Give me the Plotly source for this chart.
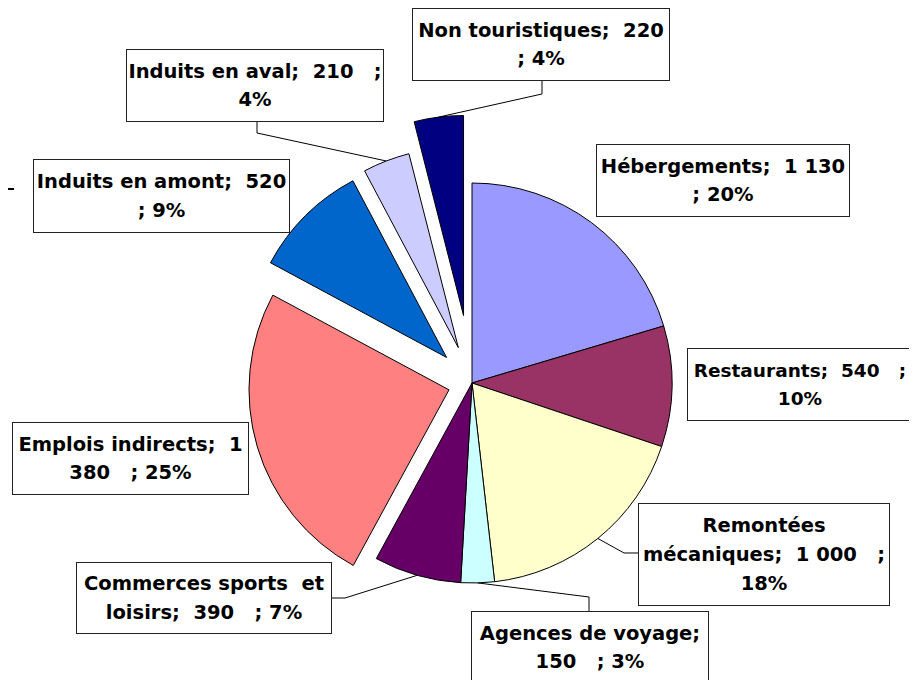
import math
import plotly.graph_objects as go

W, H = 917, 680
OFF = 8  # the page body margin that sits around the plot div

labels = ["Hébergements", "Restaurants", "Remontées mécaniques", "Agences de voyage",
          "Commerces sports et loisirs", "Emplois indirects", "Induits en amont",
          "Induits en aval", "Non touristiques"]
values = [1130, 540, 1000, 150, 390, 1380, 520, 210, 220]
colors = ["#9999FF", "#993366", "#FFFFCC", "#CCFFFF", "#660066",
          "#FF8080", "#0066CC", "#CCCCFF", "#000080"]
pulls = [0, 0, 0, 0, 0, 0.12, 0.18, 0.19, 0.34]

# how each data label is broken over lines (n = name, w = words, v = value, p = percent)
templates = [
    "{n};  {v}|; {p}",
    "{n};  {v}   ;|{p}",
    "{w[0]}|{w[1]};  {v}   ;|{p}",
    "{n};|{v}   ; {p}",
    "{w[0]} {w[1]}  {w[2]}|{w[3]};  {v}   ; {p}",
    "{n};  {vw[0]}|{vw[1]}   ; {p}",
    "{n};  {v}|; {p}",
    "{n};  {v}   ;|{p}",
    "{n};  {v}|; {p}",
]

# label boxes in screen pixels: left, top, width, height
boxes = [(596, 144, 254, 73), (687, 348, 226, 73), (638, 503, 252, 103),
         (471, 611, 238, 73), (76, 562, 256, 72), (12, 422, 237, 73),
         (33, 159, 257, 74), (126, 49, 258, 73), (412, 8, 258, 73)]
label_font = {1: 18.5}  # the restaurants box runs off the right edge

# leader lines: slice index -> points from the box to the elbow
leaders = {8: [(542, 81), (542, 94)], 7: [(257, 122), (257, 133)],
           2: [(638, 553), (624, 553)], 3: [(589, 611), (589, 597)],
           4: [(332, 598), (345, 598)]}

# pie geometry (screen pixels)
cx, cy, r = 472, 383, 200


def px(x):
    return (x - OFF) / W


def py(y):
    return 1 - (y - OFF) / H


half = r * (1 + max(pulls))
dom_x = [px(cx - half), px(cx + half)]
dom_y = [py(cy + half), py(cy - half)]

total = sum(values)

fig = go.Figure(go.Pie(
    labels=labels, values=values, sort=False, direction="clockwise", rotation=0,
    pull=pulls, marker=dict(colors=colors, line=dict(color="black", width=1)),
    textinfo="none", hoverinfo="label+value+percent", showlegend=False,
    domain=dict(x=dom_x, y=dom_y),
))

NB = "\u00a0"
annotations = []
for i, name in enumerate(labels):
    vstr = f"{values[i]:,}".replace(",", " ")
    pct = f"{round(100 * values[i] / total)}%"
    txt = templates[i].format(n=name, w=name.split(), v=vstr, vw=vstr.split(), p=pct)
    fs = label_font.get(i, 19.5)
    lines = [f'<span style="font-size:{fs}px">' + ln.replace(" ", NB) + "</span>"
             for ln in txt.split("|")]
    left, top, bw, bh = boxes[i]
    annotations.append(dict(
        x=px(left + bw / 2), y=py(top + bh / 2), xref="paper", yref="paper",
        xanchor="center", yanchor="middle", showarrow=False,
        text="<b>" + "<br>".join(lines) + "</b>",
        width=bw - 2, height=bh - 2, align="center", valign="middle",
        bgcolor="white", bordercolor="#222222", borderwidth=1, borderpad=0,
        font=dict(family="DejaVu Sans", size=22, color="black"),
    ))

shapes = []
cum = 0
mids = []
for v in values:
    mids.append(360 * (cum + v / 2) / total)
    cum += v
for i, pts in leaders.items():
    th = math.radians(mids[i])
    R = r * (1 + pulls[i])
    sx, sy = cx + R * math.sin(th), cy - R * math.cos(th)
    allpts = pts + [(sx, sy)]
    path = "M " + " L ".join(f"{px(x):.5f},{py(y):.5f}" for x, y in allpts)
    shapes.append(dict(type="path", path=path, xref="paper", yref="paper",
                       line=dict(color="black", width=1)))

# stray tick at the left edge
shapes.append(dict(type="line", x0=px(8), x1=px(14), y0=py(189), y1=py(189),
                   xref="paper", yref="paper", line=dict(color="black", width=2)))

fig.update_layout(
    width=W, height=H, margin=dict(l=0, r=0, t=0, b=0, autoexpand=False),
    paper_bgcolor="white", plot_bgcolor="white",
    annotations=annotations, shapes=shapes,
)

fig.write_html("out.html")
